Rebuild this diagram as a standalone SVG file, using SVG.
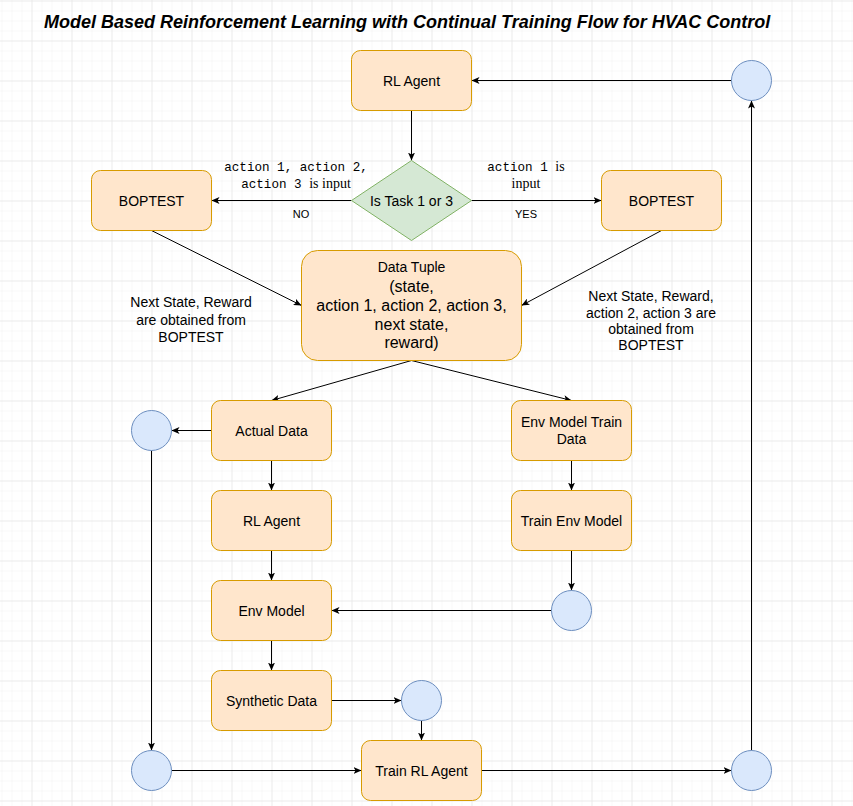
<svg xmlns="http://www.w3.org/2000/svg" width="853" height="806" viewBox="0 0 853 806">
  <defs>
    <pattern id="minor" x="1.5" y="0.5" width="10" height="10" patternUnits="userSpaceOnUse">
      <path d="M0,0 L10,0 M0,0 L0,10" fill="none" stroke="#f1f1f1" stroke-width="1"/>
    </pattern>
    <pattern id="major" x="31.5" y="0.5" width="40" height="40" patternUnits="userSpaceOnUse">
      <path d="M0,0 L40,0 M0,0 L0,40" fill="none" stroke="#e2e2e2" stroke-width="1"/>
    </pattern>
    <marker id="arr" viewBox="0 0 8 7" refX="8" refY="3.5" markerWidth="8" markerHeight="7" markerUnits="userSpaceOnUse" orient="auto">
      <path d="M0,0 L8,3.5 L0,7 L2,3.5 Z" fill="#000"/>
    </marker>
    <style>
      .box { fill: #ffe6cc; stroke: #d79b00; stroke-width: 1; }
      .dia { fill: #d5e8d4; stroke: #82b366; stroke-width: 1; }
      .cir { fill: #dae8fc; stroke: #6c8ebf; stroke-width: 1; }
      .t { font-family: "Liberation Sans", Arial, sans-serif; font-size: 14px; fill: #000; text-anchor: middle; }
      .s16 { font-size: 16px; }
      .mono { font-family: "Liberation Mono", "Courier New", monospace; font-size: 12.6px; }
      .serif { font-family: "Liberation Serif", "Times New Roman", serif; font-size: 14px; }
      .yn { font-family: "Liberation Sans", Arial, sans-serif; font-size: 11px; text-anchor: middle; }
      .c { fill: none; stroke: #000; stroke-width: 1; marker-end: url(#arr); }
    </style>
  </defs>
  <rect width="853" height="806" fill="#ffffff"/>
  <rect width="853" height="806" fill="url(#minor)"/>
  <rect width="853" height="806" fill="url(#major)"/>

  <text x="44" y="28" font-family="Liberation Sans, Arial, sans-serif" font-size="18" font-weight="bold" font-style="italic">Model Based Reinforcement Learning with Continual Training Flow for HVAC Control</text>

  <g id="connectors">
    <path class="c" d="M731.5,80.5 L471.5,80.5"/>
    <path class="c" d="M411.5,110.5 L411.5,160.5"/>
    <path class="c" d="M351.5,200.5 L211.5,200.5"/>
    <path class="c" d="M471.5,200.5 L601.5,200.5"/>
    <path class="c" d="M151.5,230.5 L301.5,305.5"/>
    <path class="c" d="M661.5,230.5 L521.5,305.5"/>
    <path class="c" d="M411.5,360.5 L271.5,400.5"/>
    <path class="c" d="M411.5,360.5 L571.5,400.5"/>
    <path class="c" d="M211.5,430.5 L171.5,430.5"/>
    <path class="c" d="M271.5,460.5 L271.5,490.5"/>
    <path class="c" d="M571.5,460.5 L571.5,490.5"/>
    <path class="c" d="M271.5,550.5 L271.5,580.5"/>
    <path class="c" d="M571.5,550.5 L571.5,590.5"/>
    <path class="c" d="M551.5,610.5 L331.5,610.5"/>
    <path class="c" d="M271.5,640.5 L271.5,670.5"/>
    <path class="c" d="M331.5,700.5 L401.5,700.5"/>
    <path class="c" d="M421.5,720.5 L421.5,740.5"/>
    <path class="c" d="M151.5,450.5 L151.5,750.5"/>
    <path class="c" d="M171.5,770.5 L361.5,770.5"/>
    <path class="c" d="M481.5,770.5 L731.5,770.5"/>
    <path class="c" d="M751.5,750.5 L751.5,100.5"/>
  </g>

  <g id="edge-labels">
    <text class="t" x="296" y="171"><tspan class="mono">action 1, action 2,</tspan></text>
    <text class="t" x="296" y="188"><tspan class="mono">action 3 </tspan><tspan class="serif">is input</tspan></text>
    <text class="yn" x="301" y="218">NO</text>
    <text class="t" x="526" y="171"><tspan class="mono">action 1 </tspan><tspan class="serif">is</tspan></text>
    <text class="t serif" x="526" y="188">input</text>
    <text class="yn" x="526" y="218">YES</text>
    <text class="t" x="191" y="307">Next State, Reward</text>
    <text class="t" x="191" y="325">are obtained from</text>
    <text class="t" x="191" y="342">BOPTEST</text>
    <text class="t" x="651" y="301">Next State, Reward,</text>
    <text class="t" x="651" y="318">action 2, action 3 are</text>
    <text class="t" x="651" y="334">obtained from</text>
    <text class="t" x="651" y="350">BOPTEST</text>
  </g>

  <g id="rl-agent-top">
    <rect class="box" x="351.5" y="50.5" width="120" height="60" rx="9"/>
    <text class="t" x="411.5" y="85.5">RL Agent</text>
  </g>
  <g id="circle-top-right">
    <circle class="cir" cx="751.5" cy="80.5" r="20"/>
  </g>
  <g id="decision">
    <polygon class="dia" points="411.5,160.5 471.5,200.5 411.5,240.5 351.5,200.5"/>
    <text class="t" x="411.5" y="205.5">Is Task 1 or 3</text>
  </g>
  <g id="boptest-left">
    <rect class="box" x="91.5" y="170.5" width="120" height="60" rx="9"/>
    <text class="t" x="151.5" y="205.5">BOPTEST</text>
  </g>
  <g id="boptest-right">
    <rect class="box" x="601.5" y="170.5" width="120" height="60" rx="9"/>
    <text class="t" x="661.5" y="205.5">BOPTEST</text>
  </g>
  <g id="data-tuple">
    <rect class="box" x="301.5" y="250.5" width="220" height="110" rx="16"/>
    <text class="t" x="411.5" y="272">Data Tuple</text>
    <text class="t s16" x="411.5" y="292">(state,</text>
    <text class="t s16" x="411.5" y="311">action 1, action 2, action 3,</text>
    <text class="t s16" x="411.5" y="330">next state,</text>
    <text class="t s16" x="411.5" y="348">reward)</text>
  </g>
  <g id="actual-data">
    <rect class="box" x="211.5" y="400.5" width="120" height="60" rx="9"/>
    <text class="t" x="271.5" y="435.5">Actual Data</text>
  </g>
  <g id="env-model-train-data">
    <rect class="box" x="511.5" y="400.5" width="120" height="60" rx="9"/>
    <text class="t" x="571.5" y="427">Env Model Train</text>
    <text class="t" x="571.5" y="444">Data</text>
  </g>
  <g id="circle-left">
    <circle class="cir" cx="151.5" cy="430.5" r="20"/>
  </g>
  <g id="rl-agent">
    <rect class="box" x="211.5" y="490.5" width="120" height="60" rx="9"/>
    <text class="t" x="271.5" y="525.5">RL Agent</text>
  </g>
  <g id="train-env-model">
    <rect class="box" x="511.5" y="490.5" width="120" height="60" rx="9"/>
    <text class="t" x="571.5" y="525.5">Train Env Model</text>
  </g>
  <g id="env-model">
    <rect class="box" x="211.5" y="580.5" width="120" height="60" rx="9"/>
    <text class="t" x="271.5" y="615.5">Env Model</text>
  </g>
  <g id="circle-env">
    <circle class="cir" cx="571.5" cy="610.5" r="20"/>
  </g>
  <g id="synthetic-data">
    <rect class="box" x="211.5" y="670.5" width="120" height="60" rx="9"/>
    <text class="t" x="271.5" y="705.5">Synthetic Data</text>
  </g>
  <g id="circle-synthetic">
    <circle class="cir" cx="421.5" cy="700.5" r="20"/>
  </g>
  <g id="train-rl-agent">
    <rect class="box" x="361.5" y="740.5" width="120" height="60" rx="9"/>
    <text class="t" x="421.5" y="775.5">Train RL Agent</text>
  </g>
  <g id="circle-bottom-left">
    <circle class="cir" cx="151.5" cy="770.5" r="20"/>
  </g>
  <g id="circle-bottom-right">
    <circle class="cir" cx="751.5" cy="770.5" r="20"/>
  </g>
</svg>
